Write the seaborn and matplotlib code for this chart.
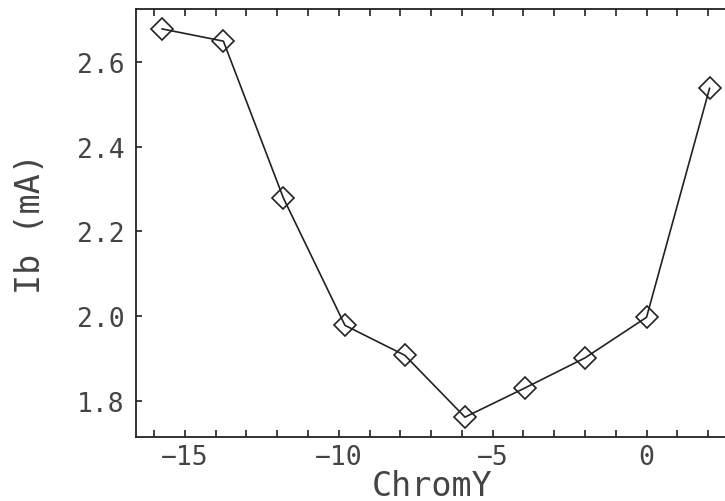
import numpy as np
import matplotlib
matplotlib.use("Agg")
import matplotlib.pyplot as plt
import seaborn as sns
from matplotlib.ticker import MultipleLocator

# 데이터
chrom_y = [-15.75, -13.75, -11.8, -9.8, -7.85, -5.9, -3.95, -2.0, 0.0, 2.05]
ib_ma = [2.679, 2.650, 2.279, 1.978, 1.907, 1.761, 1.830, 1.901, 1.997, 2.539]
x_major = [-15, -10, -5, 0]
y_major = [1.8, 2.0, 2.2, 2.4, 2.6]

sns.set_style("ticks")
plt.rcParams['font.family'] = ['DejaVu Sans Mono', 'DejaVu Sans']

ink = "#222222"
txt = "#444444"

fig = plt.figure(figsize=(7.25, 5.02), dpi=100)
ax = fig.add_axes([136 / 725, 64 / 502, (729 - 136) / 725, 428 / 502])

sns.lineplot(x=chrom_y, y=ib_ma, ax=ax, color=ink, linewidth=1.2,
             marker="D", markersize=11, markerfacecolor="none",
             markeredgecolor=ink, markeredgewidth=1.2)

ax.set_xlim(-16.59, 2.68)
ax.set_ylim(1.714, 2.726)

ax.set_xticks(x_major)
ax.set_xticklabels([f"\u2212{abs(v)}" if v < 0 else str(v) for v in x_major])
ax.xaxis.set_minor_locator(MultipleLocator(1))
ax.set_yticks(y_major)
ax.set_yticklabels([f"{v:.1f}" for v in y_major])

for side in ["top", "left", "bottom"]:
    ax.spines[side].set_color(ink)
    ax.spines[side].set_linewidth(1.3)
ax.spines["right"].set_visible(False)

ax.tick_params(axis="x", which="both", direction="in", top=True, bottom=True,
               length=5, width=1.2, color=ink, labelsize=19, labelcolor=txt, pad=5)
ax.tick_params(axis="y", which="both", direction="in", left=True, right=False,
               length=4, width=1.2, color=ink, labelsize=19, labelcolor=txt, pad=8)

ax.set_xlabel("ChromY", fontsize=24, color=txt)
ax.xaxis.label.set_va("baseline")
ax.xaxis.set_label_coords(0.5, -0.136)
ax.set_ylabel("Ib (mA)", fontsize=24, color=txt, labelpad=22)

fig.savefig("out.png", dpi=100)
